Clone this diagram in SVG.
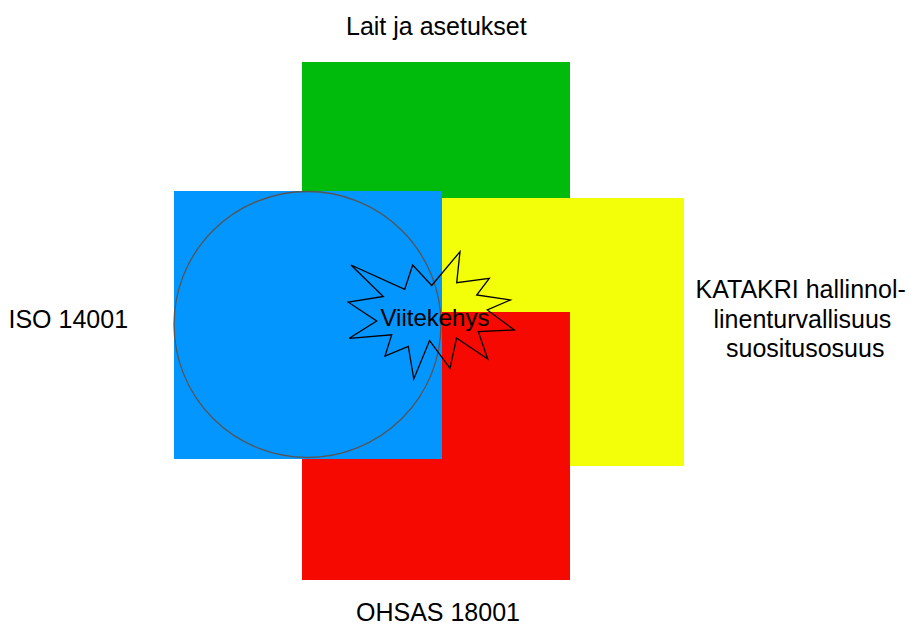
<svg xmlns="http://www.w3.org/2000/svg" width="914" height="625" viewBox="0 0 914 625">
  <style>
    .lbl { font-family: "Liberation Sans", Arial, sans-serif; font-size: 25px; fill: #000; }
  </style>
  <rect width="914" height="625" fill="#ffffff"/>
  <g id="node-lait">
    <rect x="302" y="62" width="268" height="268" fill="#00bb0c"/>
    <text class="lbl" x="346" y="35">Lait ja asetukset</text>
  </g>
  <g id="node-katakri">
    <rect x="416" y="198" width="268" height="268" fill="#f2ff08"/>
    <text class="lbl" x="695.5" y="298">KATAKRI hallinnol-</text>
    <text class="lbl" x="713.5" y="327.5">linenturvallisuus</text>
    <text class="lbl" x="726" y="356.5">suositusosuus</text>
  </g>
  <g id="node-ohsas">
    <rect x="302" y="312" width="268" height="268" fill="#f50900"/>
    <text class="lbl" x="356" y="621">OHSAS 18001</text>
  </g>
  <g id="node-iso">
    <rect x="174" y="191" width="268" height="268" fill="#0496ff"/>
    <text class="lbl" x="8.5" y="328">ISO 14001</text>
  </g>
  <g id="connectors"></g>
  <g id="node-circle">
    <ellipse cx="307.5" cy="324.5" rx="133.5" ry="133" fill="none" stroke="#555555" stroke-width="1.3"/>
  </g>
  <g id="node-viitekehys">
    <polygon points="351,265 404.7,289.3 412.7,265 431.7,285.5 460,251.7 456.7,282.7 489.3,278.3 476.7,295 510.3,300 487.3,310 514.3,330 478.3,331.7 487.7,359 456.5,338 450,368.3 429.6,340.5 413.8,379 408.3,346.3 385,356 391.7,334.8 349.3,338.3 376.7,321 348.3,302.2 383.3,296.5" fill="none" stroke="#000000" stroke-width="1.3" stroke-linejoin="miter"/>
    <text class="lbl" x="435" y="326" text-anchor="middle" style="font-size:24px">Viitekehys</text>
  </g>
</svg>
